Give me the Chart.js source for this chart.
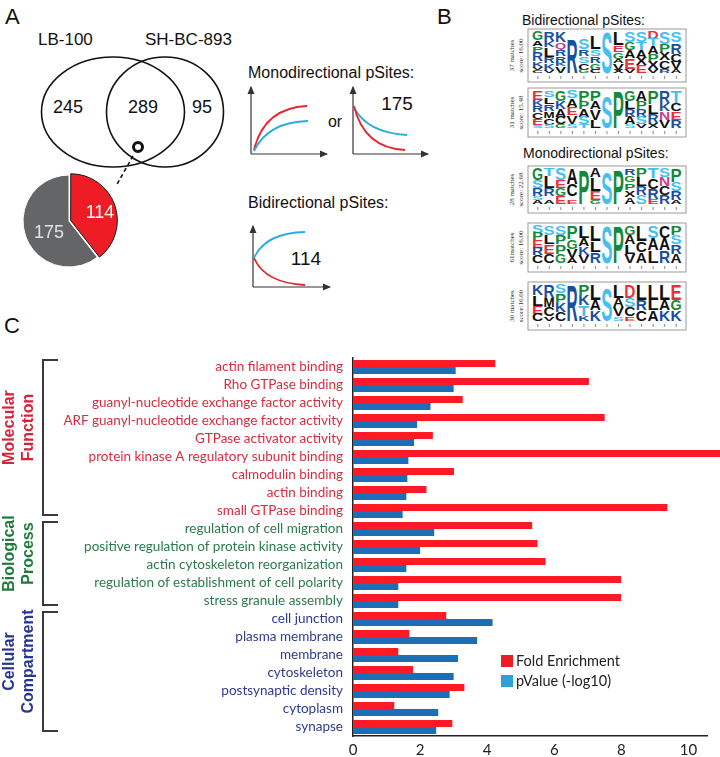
<!DOCTYPE html>
<html lang="en">
<head>
<meta charset="UTF-8">
<title>pSites GO enrichment</title>
<script src="https://cdn.jsdelivr.net/npm/chart.js"></script>
<style>
  body { margin: 0; background: #fff; }
  #page { position: relative; width: 720px; height: 757px; overflow: hidden; font-family: "Liberation Sans", Arial, sans-serif; }
  .abs { position: absolute; }
  .lbl { position: absolute; transform: translate(-50%, -50%); font-size: 18px; white-space: nowrap; }
  .leg { position: absolute; font-family: Lato, sans-serif; font-size: 14.5px; color: #222; white-space: nowrap; }
  .sq { position: absolute; width: 12px; height: 12px; }
</style>
</head>
<body>
<div id="page">
  <svg id="topSvg" class="abs" width="720" height="340" style="left:0;top:0">
    <defs>
      <marker id="ar" markerWidth="7" markerHeight="6" refX="6" refY="3" orient="auto">
        <path d="M0,0 L7,3 L0,6 z" fill="#333"/>
      </marker>
    </defs>
    <g font-family="Liberation Sans, Arial, sans-serif" fill="#111">
      <text x="5" y="24" font-size="22">A</text>
      <text x="437" y="24" font-size="22">B</text>
      <text x="38" y="45" font-size="17">LB-100</text>
      <text x="145" y="45" font-size="17">SH-BC-893</text>
      <text x="68" y="113" font-size="18" text-anchor="middle">245</text>
      <text x="143" y="113" font-size="18" text-anchor="middle">289</text>
      <text x="202" y="113" font-size="18" text-anchor="middle">95</text>
      <text x="248" y="78" font-size="16">Monodirectional pSites:</text>
      <text x="335" y="127" font-size="16" text-anchor="middle">or</text>
      <text x="397" y="110" font-size="19" text-anchor="middle">175</text>
      <text x="248" y="208" font-size="16">Bidirectional pSites:</text>
      <text x="306" y="265" font-size="19" text-anchor="middle">114</text>
      <text x="522" y="25" font-size="14">Bidirectional pSites:</text>
      <text x="523" y="158" font-size="14">Monodirectional pSites:</text>
    </g>
    <g fill="none" stroke="#111" stroke-width="1.6">
      <ellipse cx="113" cy="112" rx="71.5" ry="55"/>
      <ellipse cx="165" cy="112" rx="58.5" ry="55"/>
      <circle cx="138" cy="147" r="4.5" stroke-width="3"/>
      <line x1="133" y1="156" x2="116" y2="186" stroke-dasharray="4 3"/>
    </g>
    <g fill="none" stroke="#333" stroke-width="1.2">
      <path d="M251,154 L251,87" marker-end="url(#ar)"/>
      <path d="M251,154 L327,154" marker-end="url(#ar)"/>
      <path d="M353,154 L353,87" marker-end="url(#ar)"/>
      <path d="M353,154 L428,154" marker-end="url(#ar)"/>
      <path d="M253,287 L253,226" marker-end="url(#ar)"/>
      <path d="M253,287 L330,287" marker-end="url(#ar)"/>
    </g>
    <g fill="none" stroke-width="1.8">
      <path d="M254,150 Q264,108 307,106" stroke="#e8232a"/>
      <path d="M254,151 Q268,122 308,121" stroke="#29abe2"/>
      <path d="M354,108 Q368,133 407,135" stroke="#29abe2"/>
      <path d="M354,106 Q364,148 405,150" stroke="#e8232a"/>
      <path d="M254,258 Q265,233 305,232" stroke="#29abe2"/>
      <path d="M254,258 Q265,283 305,285" stroke="#e8232a"/>
    </g>
    <g id="logos"></g>
  </svg>

  <canvas id="pie" class="abs" width="100" height="100" style="left:19px;top:171px"></canvas>
  <div class="lbl" style="left:100px;top:212px;color:#fff">114</div>
  <div class="lbl" style="left:49px;top:232px;color:#e2e2e2">175</div>

  <div class="abs" style="left:4px;top:313px;font-size:22px;color:#111">C</div>
  <canvas id="bars" class="abs" width="720" height="417" style="left:0;top:340px"></canvas>

  <div class="sq" style="left:501px;top:655px;background:#ee1c25"></div>
  <div class="leg" style="left:516px;top:652px">Fold Enrichment</div>
  <div class="sq" style="left:501px;top:675px;background:#2d9fd9"></div>
  <div class="leg" style="left:516px;top:672px">pValue (-log10)</div>
</div>

<script>
  // GO terms, top to bottom
  const categories = [
    'actin filament binding',
    'Rho GTPase binding',
    'guanyl-nucleotide exchange factor activity',
    'ARF guanyl-nucleotide exchange factor activity',
    'GTPase activator activity',
    'protein kinase A regulatory subunit binding',
    'calmodulin binding',
    'actin binding',
    'small GTPase binding',
    'regulation of cell migration',
    'positive regulation of protein kinase activity',
    'actin cytoskeleton reorganization',
    'regulation of establishment of cell polarity',
    'stress granule assembly',
    'cell junction',
    'plasma membrane',
    'membrane',
    'cytoskeleton',
    'postsynaptic density',
    'cytoplasm',
    'synapse'
  ];
  const groupOf = [0,0,0,0,0,0,0,0,0, 1,1,1,1,1, 2,2,2,2,2,2,2];
  const groupNames = [['Molecular', 'Function'], ['Biological', 'Process'], ['Cellular', 'Compartment']];
  const groupColors = ['#d9233a', '#1f7a3c', '#283593'];
  const labelColors = ['#d42e3e', '#2b7a4b', '#2e3b8f'];

  const foldEnrichment = [4.24, 7.03, 3.27, 7.50, 2.38, 11.0, 3.01, 2.19, 9.37,
                          5.34, 5.50, 5.74, 7.99, 7.99,
                          2.78, 1.68, 1.35, 1.79, 3.32, 1.23, 2.96];
  const pValueLog10 = [3.06, 3.00, 2.31, 1.91, 1.82, 1.65, 1.62, 1.59, 1.48,
                       2.42, 2.00, 1.59, 1.35, 1.35,
                       4.16, 3.70, 3.13, 3.00, 2.88, 2.54, 2.48];
  const xTicks = [0, 2, 4, 6, 8, 10];

  // pie: split of the 289 shared pSites
  const pieLabels = ['Bidirectional', 'Monodirectional'];
  const pieValues = [114, 175];

  new Chart(document.getElementById('pie'), {
    type: 'pie',
    data: {
      labels: pieLabels,
      datasets: [{
        data: pieValues,
        backgroundColor: ['#ee1c25', '#646567'],
        borderColor: ['#1a1a1a', '#ffffff'],
        borderWidth: [1, 1],
        offset: [7, 0]
      }]
    },
    options: {
      responsive: false,
      animation: false,
      plugins: { legend: { display: false }, tooltip: { enabled: false } }
    }
  });

  const groupPlugin = {
    id: 'groups',
    afterDraw(chart) {
      const { ctx, scales: { y } } = chart;
      const step = y.getPixelForValue(1) - y.getPixelForValue(0);
      groupNames.forEach((g, gi) => {
        const idx = groupOf.map((v, i) => v === gi ? i : -1).filter(i => i >= 0);
        const t = y.getPixelForValue(idx[0]) - step / 2 + 2;
        const b = y.getPixelForValue(idx[idx.length - 1]) + step / 2 - 5;
        ctx.save();
        ctx.strokeStyle = '#3a3a3a';
        ctx.lineWidth = 2;
        ctx.beginPath();
        ctx.moveTo(58, t); ctx.lineTo(43, t); ctx.lineTo(43, b); ctx.lineTo(58, b);
        ctx.stroke();
        ctx.translate(0, (t + b) / 2 - 10);
        ctx.rotate(-Math.PI / 2);
        ctx.font = 'bold 16px "Liberation Sans", Arial, sans-serif';
        ctx.fillStyle = groupColors[gi];
        ctx.textAlign = 'center';
        ctx.textBaseline = 'middle';
        ctx.fillText(g[0], 0, 10);
        ctx.fillText(g[1], 0, 29);
        ctx.restore();
      });
    }
  };

  new Chart(document.getElementById('bars'), {
    type: 'bar',
    data: {
      labels: categories,
      datasets: [
        { label: 'Fold Enrichment', data: foldEnrichment, backgroundColor: '#ff1a26', clip: false },
        { label: 'pValue (-log10)', data: pValueLog10, backgroundColor: '#1b6fb6' }
      ]
    },
    options: {
      indexAxis: 'y',
      responsive: false,
      animation: false,
      layout: { padding: { left: 0, right: 13, top: 13, bottom: 0 } },
      datasets: { bar: { barPercentage: 1, categoryPercentage: 0.78 } },
      plugins: { legend: { display: false }, tooltip: { enabled: false } },
      scales: {
        x: {
          min: 0,
          max: 10.55,
          afterBuildTicks: s => { s.ticks = xTicks.map(v => ({ value: v })); },
          afterFit: s => { s.height = 21; },
          grid: { display: false, drawTicks: false },
          border: { color: '#222', width: 1.5 },
          ticks: { padding: 5, color: '#222', font: { family: 'Lato', size: 15 } }
        },
        y: {
          afterFit: s => { s.width = 353; },
          grid: { display: false, drawTicks: false },
          border: { color: '#222', width: 1.5 },
          ticks: {
            autoSkip: false,
            padding: 10,
            color: c => labelColors[groupOf[c.index]],
            font: { family: 'Lato', size: 13.5 }
          }
        }
      }
    },
    plugins: [groupPlugin]
  });

  // sequence logos (panel B), drawn as stacked scaled letters
  const logos = [
    { top: 29, h: 53, label: ['37 matches', 'score: 16.00'],
      cols: ['G3A2P2R3K2V1C1', 'R3K2L3R2K2V1', 'K3Q2R2R2K1V2', '_2R12', '_2S3R2S2C2G1', '_1L4S2R2G2C1', 'S14',
             'L4E2G2A1V2X1', 'S3G2A2E3V1', 'S3T2A2X2E2', 'D2T2A2P2X2V1', 'S3P2X2C2R1', 'S3R3C2V2A1'] },
    { top: 88, h: 49, label: ['31 matches', 'score: 15.48'],
      cols: ['E3K2R2C2E2S1', 'S2L2R2M2C2S1', 'G3K2A2C2G1', 'S2A2E2V2S1', 'P3P2A2S2T1', 'P3A2V3L2', '_2S12',
             'P14', 'G3L2R2A2S1', 'A3P2R2S2V1', 'P3L2R2X1', 'R3K2N2V2', 'T3C2E2R2'] },
    { top: 166, h: 47, label: ['28 matches', 'score: 22.68'],
      cols: ['G3S2R2S1A1', 'T2L3R2_1A1', 'S3E2G2E2', 'A4C3_1E1', 'P14', 'A2L3E2G1', '_1S13',
             'P14', 'R2G2P2X2A2', 'P2L2R2S2', 'T2C2R2E1', 'S2N2C2R2', 'P3S2R2A1'] },
    { top: 223, h: 49, label: ['61matches', 'score: 16.00'],
      cols: ['S2P2E2R2C2', 'S2L2E2C2', 'S2P2P2G2', 'P3G2V2A1', 'L3A2K2V2', 'L3L2R2', 'S14',
             'P14', 'G2A2L2V2', 'L3C2A2', 'S2A2L2', 'C2A2R2', 'P2S2R2A2'] },
    { top: 282, h: 48, label: ['30 matches', 'score:16.00'],
      cols: ['K3L3E2C2', 'R3M2C2V1', 'S2P2K2C2', 'R14', 'P2K2T2K1', 'L3A2K2', '_1S13',
             'L3A2V2S1', 'D3S2C2E1', 'L3R2C2', 'L3L2A2', 'L3A2K2', 'E3G2K2'] }
  ];
  const aaColor = { S: '#45bfef', T: '#45bfef', G: '#178a3c', P: '#14893a', R: '#1a4f9f', K: '#1a4f9f', H: '#1a4f9f',
                    D: '#e8303a', E: '#e8303a', N: '#d03a8a', Q: '#d03a8a', Y: '#7a4fb0', W: '#7a4fb0' };
  const NS = 'http://www.w3.org/2000/svg';
  const lg = document.getElementById('logos');
  function el(tag, attrs, text) {
    const e = document.createElementNS(NS, tag);
    for (const k in attrs) e.setAttribute(k, attrs[k]);
    if (text) e.textContent = text;
    lg.appendChild(e);
    return e;
  }
  logos.forEach(L => {
    const left = 528, w = 158, areaH = L.h - 9;
    el('rect', { x: left, y: L.top, width: w, height: L.h, fill: 'none', stroke: '#9a9a9a', 'stroke-width': 1 });
    const colW = (w - 8) / 13;
    L.cols.forEach((spec, ci) => {
      const toks = [...spec.matchAll(/([A-Z_])(\d*)/g)].map(m => [m[1], +(m[2] || 1)]);
      const tot = toks.reduce((a, t) => a + t[1], 0);
      let yy = L.top + 2;
      const x = left + 4 + ci * colW;
      toks.forEach(([ch, wgt]) => {
        const sh = (areaH - 2) * wgt / tot;
        yy += sh;
        if (ch !== '_') {
          el('text', { x: 0, y: 0, 'font-size': 10, 'font-weight': 'bold', 'font-family': 'Liberation Sans, Arial',
                       textLength: colW - 0.4, lengthAdjust: 'spacingAndGlyphs', fill: aaColor[ch] || '#111',
                       transform: `translate(${x.toFixed(2)},${yy.toFixed(2)}) scale(1,${(sh / 7.4).toFixed(3)})` }, ch);
        }
      });
      el('rect', { x: x + colW / 2 - 0.5, y: L.top + L.h - 6, width: 1, height: 3, fill: '#888' });
    });
    const cy = L.top + L.h / 2;
    el('text', { x: 0, y: 0, 'font-size': 7, 'font-family': 'Liberation Serif, serif', fill: '#333', 'text-anchor': 'middle',
                 transform: `translate(514,${cy}) rotate(-90)` }, L.label[0]);
    el('text', { x: 0, y: 0, 'font-size': 7, 'font-family': 'Liberation Serif, serif', fill: '#333', 'text-anchor': 'middle',
                 transform: `translate(523,${cy}) rotate(-90)` }, L.label[1]);
  });
</script>
</body>
</html>
